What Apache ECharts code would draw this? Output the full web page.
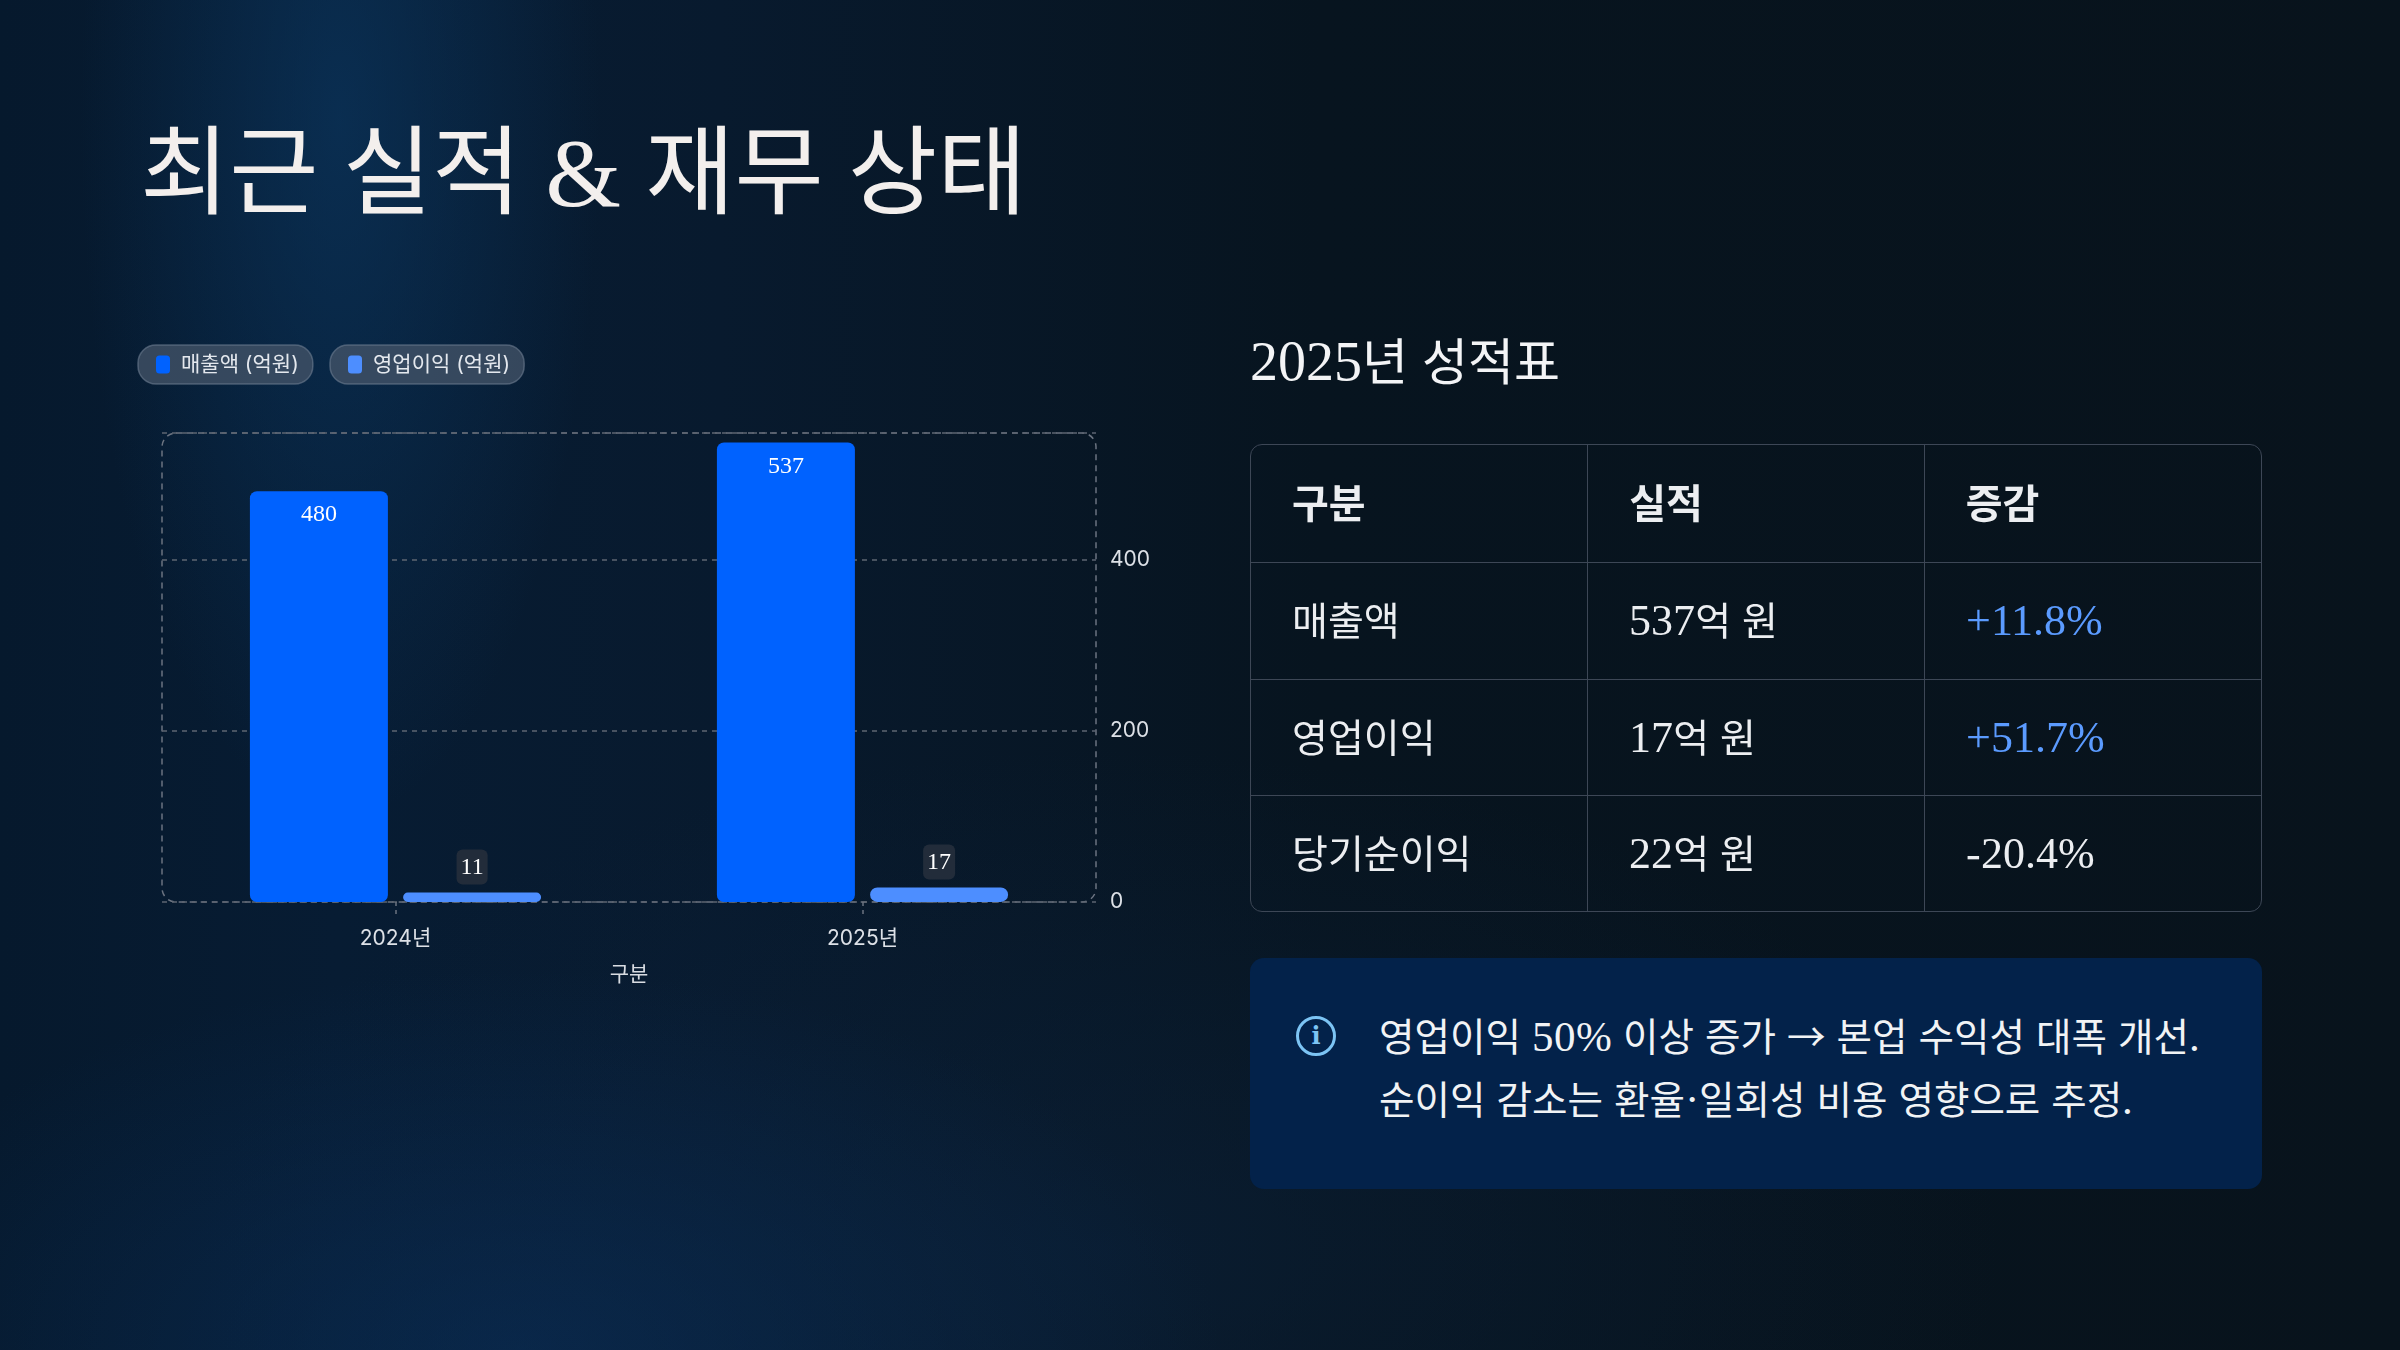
<!doctype html>
<html>
<head>
<meta charset="utf-8">
<script src="https://cdn.jsdelivr.net/npm/echarts@6/dist/echarts.min.js"></script>
<style>
  /* latin glyphs of the slide font run a bit larger than the hangul */
  @font-face {
    font-family: "SlideSerif";
    src: local("Liberation Serif");
    size-adjust: 112%;
  }
  html, body { margin: 0; padding: 0; }
  body {
    width: 2400px; height: 1350px; overflow: hidden; position: relative;
    background-color: #07131e;
    background-image:
      radial-gradient(ellipse 260px 700px at 340px 120px, rgba(12, 60, 105, 0.55), rgba(12, 60, 105, 0) 100%),
      radial-gradient(ellipse 700px 380px at 520px 1350px, rgba(10, 48, 92, 0.55), rgba(10, 48, 92, 0) 100%),
      radial-gradient(ellipse 900px 500px at 1100px 1250px, rgba(12, 35, 62, 0.5), rgba(12, 35, 62, 0) 100%),
      linear-gradient(90deg, #06192d 0%, #071c33 14%, #081a2e 30%, #07141f 55%, #08131c 100%);
    font-family: "SlideSerif", "Noto Sans CJK KR", serif;
    color: #f1f3f5;
  }
  #main { position: absolute; left: 0; top: 0; width: 2400px; height: 1350px; }
  h1 {
    position: absolute; left: 140px; top: 125px; margin: 0;
    font-family: "Liberation Serif", "Noto Sans CJK KR", serif;
    font-size: 97px; font-weight: 400; line-height: 1; color: #f3efed;
  }
  .sub {
    position: absolute; left: 1250px; top: 336px; margin: 0;
    font-size: 50px; font-weight: 400; line-height: 1; color: #f3f4f6;
  }
  .tbl {
    position: absolute; left: 1250px; top: 444px; width: 1012px; height: 468px;
    border: 1.5px solid #3d4756; border-radius: 12px; overflow: hidden; box-sizing: border-box;
  }
  table { width: 100%; height: 100%; border-collapse: collapse; table-layout: fixed; }
  td, th {
    text-align: left; padding: 0 0 0 41px; font-size: 39px; line-height: 1;
    border-right: 1.5px solid #3d4756; border-bottom: 1.5px solid #3d4756; color: #eceef1;
  }
  th {
    font-weight: 700; font-family: "Noto Sans CJK KR", sans-serif; font-size: 40px;
    height: 111px; padding-bottom: 6px;
  }
  td { font-weight: 400; }
  tr td:last-child, tr th:last-child { border-right: none; }
  tr:last-child td { border-bottom: none; }
  td.up { color: #5b9bff; }
  .note {
    position: absolute; left: 1250px; top: 958px; width: 1012px; height: 231px;
    background: #03224a; border-radius: 14px;
  }
  .note .icon {
    position: absolute; left: 46px; top: 58px; width: 34px; height: 34px;
    border: 3px solid #7cc4f4; border-radius: 50%;
    color: #7cc4f4; font: 700 24px/34px "DejaVu Serif", serif; text-align: center;
  }
  .note .txt {
    position: absolute; left: 129px; top: 45px; margin: 0;
    font-size: 38.6px; line-height: 63px; color: #f1f3f5; white-space: nowrap;
  }
  .arrow { font-family: "Noto Sans CJK KR", sans-serif; }
</style>
</head>
<body>
<div id="main"></div>
<h1>최근 실적 &amp; 재무 상태</h1>
<div class="sub">2025년 성적표</div>
<div class="tbl"><table id="score"></table></div>
<div class="note">
  <div class="icon">i</div>
  <div class="txt">영업이익 50% 이상 증가 <span class="arrow">→</span> 본업 수익성 대폭 개선.<br>순이익 감소는 환율·일회성 비용 영향으로 추정.</div>
</div>
<script>
  // chart data
  var years = ['2024년', '2025년'];
  var revenue = [480, 537];
  var opProfit = [11, 17];
  var seriesNames = ['매출액 (억원)', '영업이익 (억원)'];

  // scorecard table
  var tableHead = ['구분', '실적', '증감'];
  var rowNames = ['매출액', '영업이익', '당기순이익'];
  var rowValues = ['537억 원', '17억 원', '22억 원'];
  var rowChanges = ['+11.8%', '+51.7%', '-20.4%'];

  var html = '<tr>' + tableHead.map(function (h) { return '<th>' + h + '</th>'; }).join('') + '</tr>';
  rowNames.forEach(function (name, i) {
    var up = rowChanges[i].charAt(0) === '+';
    html += '<tr><td>' + name + '</td><td>' + rowValues[i] +
      '</td><td' + (up ? ' class="up"' : '') + '>' + rowChanges[i] + '</td></tr>';
  });
  document.getElementById('score').innerHTML = html;

  var G = { left: 162, top: 433, width: 934, height: 469 };
  var sans = 'Inter, "Noto Sans CJK KR", sans-serif';
  var serif = '"Liberation Serif", "Noto Sans CJK KR", serif';

  var legendBase = {
    top: 345,
    icon: 'roundRect',
    itemWidth: 14,
    itemHeight: 18,
    padding: [9, 14, 9, 18],
    backgroundColor: 'rgba(70, 86, 106, 0.75)',
    borderColor: 'rgba(110, 125, 145, 0.6)',
    borderWidth: 1.5,
    borderRadius: 18,
    textStyle: { color: '#e4e8ee', fontSize: 21, fontFamily: sans, padding: [0, 0, 0, 6] }
  };

  var chart = echarts.init(document.getElementById('main'));
  chart.setOption({
    backgroundColor: 'transparent',
    animation: false,
    legend: [
      Object.assign({}, legendBase, { left: 138, data: [seriesNames[0]] }),
      Object.assign({}, legendBase, { left: 330, data: [seriesNames[1]] })
    ],
    grid: { left: G.left, top: G.top, width: G.width, height: G.height },
    graphic: [{
      type: 'rect',
      silent: true,
      shape: { x: G.left, y: G.top, width: G.width, height: G.height, r: 14 },
      style: { fill: 'none', stroke: '#6b7380', lineWidth: 1.5, lineDash: [6, 5] }
    }],
    xAxis: {
      type: 'category',
      data: years,
      name: '구분',
      nameLocation: 'middle',
      nameGap: 62,
      nameTextStyle: { color: '#d8dce2', fontSize: 21, fontFamily: sans },
      axisLine: { show: false },
      axisTick: { show: true, alignWithLabel: true, length: 12, lineStyle: { color: '#6b7380', type: [4, 4], width: 1.5 } },
      axisLabel: { color: '#dde1e7', fontSize: 21, fontFamily: sans, margin: 26 }
    },
    yAxis: {
      type: 'value',
      position: 'right',
      min: 0,
      max: 548,
      interval: 200,
      axisLine: { show: false },
      axisTick: { show: false },
      axisLabel: { color: '#dde1e7', fontSize: 21, fontFamily: sans, margin: 14, showMaxLabel: false },
      splitLine: { lineStyle: { color: '#5d6572', type: [5, 5], width: 1.5 } }
    },
    series: [{
      name: seriesNames[0],
      type: 'bar',
      data: revenue,
      barWidth: 138,
      barGap: '11%',
      itemStyle: { color: '#0062ff', borderRadius: 7 },
      label: {
        show: true, position: 'insideTop', distance: 12,
        color: '#ffffff', fontSize: 24, fontFamily: serif
      }
    }, {
      name: seriesNames[1],
      type: 'bar',
      data: opProfit,
      barWidth: 138,
      itemStyle: { color: '#4d8eff', borderRadius: 8 },
      label: {
        show: true, position: 'top', distance: 8,
        color: '#ffffff', fontSize: 24, fontFamily: serif,
        backgroundColor: '#222c3a', borderRadius: 6, padding: [6, 4, 5, 4]
      }
    }]
  });

  window.onresize = chart.resize;
</script>
</body>
</html>
